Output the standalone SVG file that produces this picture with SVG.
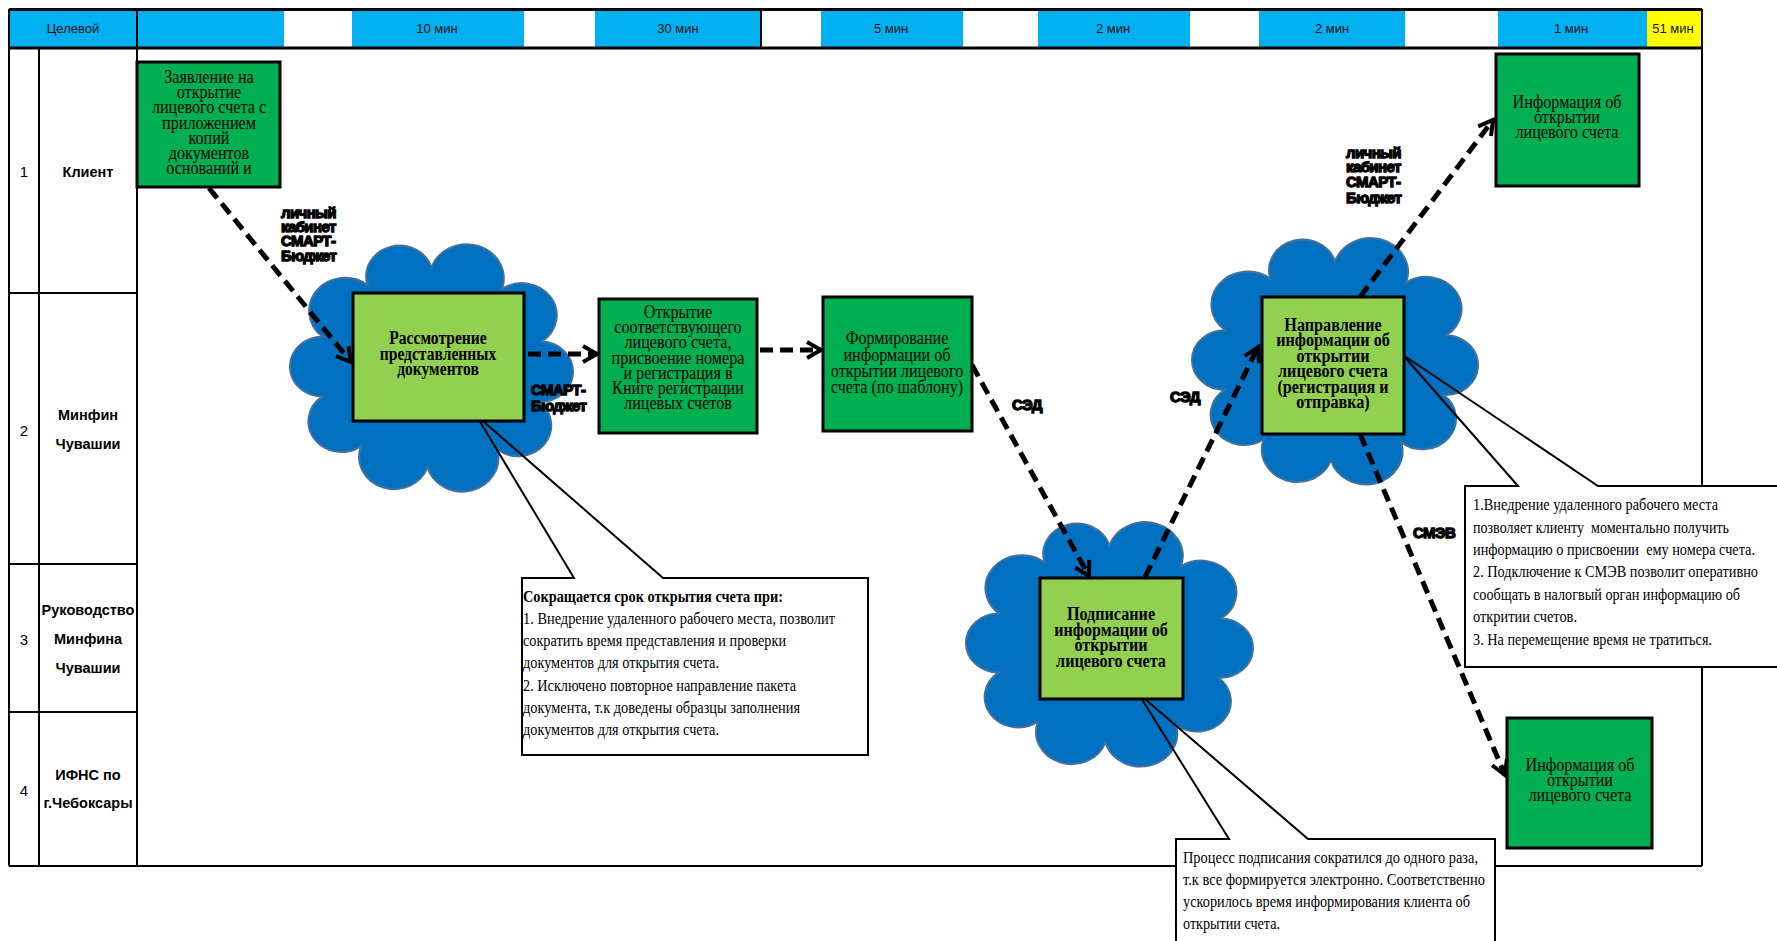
<svg xmlns="http://www.w3.org/2000/svg" xmlns:xlink="http://www.w3.org/1999/xlink" width="1777" height="941" viewBox="0 0 1777 941">
<style>
.hdr{font-family:"Liberation Sans Narrow","Liberation Sans",sans-serif;font-size:13px;fill:#111;text-anchor:middle}
.lane{font-family:"Liberation Sans",sans-serif;font-size:14.5px;font-weight:bold;fill:#000;text-anchor:middle}
.num{font-family:"Liberation Sans",sans-serif;font-size:15px;fill:#000;text-anchor:middle}
.nt{font-family:"Liberation Serif",serif;font-size:19px;fill:#000;text-anchor:middle}
.nb{font-family:"Liberation Serif",serif;font-size:19px;font-weight:bold;fill:#000;text-anchor:middle}
.ct{font-family:"Liberation Serif",serif;font-size:16px;fill:#000}
.lbl{font-family:"Liberation Sans",sans-serif;font-size:15px;font-weight:bold;fill:#000;stroke:#000;stroke-width:1.3;letter-spacing:-0.6px}
.dk{fill:#00B050;stroke:#000;stroke-width:3}
.lt{fill:#92D050;stroke:#000;stroke-width:3}
.cl{fill:#0070C0;stroke:#41719C;stroke-width:2}
.cbox{fill:#fff;stroke:none}
.cline{fill:none;stroke:#000;stroke-width:2}
.tl{stroke:#000;stroke-width:2;fill:none}
</style>
<defs>
<path id="cloud" vector-effect="non-scaling-stroke" d="M50,15 A1,1 0 0 1 72.8,22.4 A1,1 0 0 1 85.7,40.9 A1,1 0 0 1 84.8,62 A1,1 0 0 1 71.2,78.7 A1,1 0 0 1 48.7,85 A1,1 0 0 1 27.2,77.6 A1,1 0 0 1 14.6,60.2 A1,1 0 0 1 14.8,39.2 A1,1 0 0 1 29.3,21 A1,1 0 0 1 50,15 Z"/>
<marker id="arr" viewBox="0 0 20 20" refX="17" refY="10" markerWidth="20" markerHeight="20" markerUnits="userSpaceOnUse" orient="auto">
<path d="M3,2 L17,10 L3,18" fill="none" stroke="#000" stroke-width="4" stroke-dasharray="none"/>
</marker>
</defs>
<rect width="1777" height="941" fill="#fff"/>

<g id="table">
<rect x="9" y="10" width="128" height="38" fill="#00B0F0"/>
<rect x="137" y="10" width="147" height="38" fill="#00B0F0"/>
<rect x="352" y="10" width="172" height="38" fill="#00B0F0"/>
<rect x="595" y="10" width="166" height="38" fill="#00B0F0"/>
<rect x="821" y="10" width="142" height="38" fill="#00B0F0"/>
<rect x="1038" y="10" width="152" height="38" fill="#00B0F0"/>
<rect x="1259" y="10" width="146" height="38" fill="#00B0F0"/>
<rect x="1498" y="10" width="149" height="38" fill="#00B0F0"/>
<rect x="1647" y="10" width="55" height="38" fill="#FFFF00"/>
<line x1="9" y1="9.5" x2="1702" y2="9.5" stroke="#000" stroke-width="3"/>
<line x1="9" y1="48" x2="1702" y2="48" stroke="#000" stroke-width="3"/>
<line class="tl" x1="137" y1="9" x2="137" y2="866"/>
<line class="tl" x1="761" y1="9" x2="761" y2="48"/>
<line class="tl" x1="9" y1="9" x2="9" y2="866"/>
<line class="tl" x1="1702" y1="9" x2="1702" y2="866"/>
<line class="tl" x1="39" y1="48" x2="39" y2="866"/>
<line class="tl" x1="9" y1="293" x2="137" y2="293"/>
<line class="tl" x1="9" y1="564" x2="137" y2="564"/>
<line class="tl" x1="9" y1="712" x2="137" y2="712"/>
<line class="tl" x1="9" y1="866" x2="1702" y2="866"/>
<text class="hdr" x="73" y="33">Целевой</text>
<text class="hdr" x="437" y="33">10 мин</text>
<text class="hdr" x="678" y="33">30 мин</text>
<text class="hdr" x="891" y="33">5 мин</text>
<text class="hdr" x="1113" y="33">2 мин</text>
<text class="hdr" x="1332" y="33">2 мин</text>
<text class="hdr" x="1571" y="33">1 мин</text>
<text class="hdr" x="1673" y="33">51 мин</text>
<text class="num" x="24" y="177">1</text>
<text class="num" x="24" y="436">2</text>
<text class="num" x="24" y="645">3</text>
<text class="num" x="24" y="796">4</text>
<text class="lane" x="88" y="177">Клиент</text>
<text class="lane" x="88" y="420">Минфин</text>
<text class="lane" x="88" y="449">Чувашии</text>
<text class="lane" x="88" y="615">Руководство</text>
<text class="lane" x="88" y="644">Минфина</text>
<text class="lane" x="88" y="673">Чувашии</text>
<text class="lane" x="88" y="780">ИФНС по</text>
<text class="lane" x="88" y="808">г.Чебоксары</text>
</g>

<g id="cloud1"><use xlink:href="#cloud" href="#cloud" class="cl" transform="translate(277 225.1) scale(3.09 2.849)"/></g>
<g id="cloud2"><use xlink:href="#cloud" href="#cloud" class="cl" transform="translate(1178.9 219.1) scale(3.122 2.837)"/></g>
<g id="cloud3"><use xlink:href="#cloud" href="#cloud" class="cl" transform="translate(952.8 503.3) scale(3.133 2.814)"/></g>

<g id="callout1">
<rect class="cbox" x="522" y="578" width="346" height="177"/>
<path class="cline" d="M574,578 L476,415 L663,578 L868,578 L868,755 L522,755 L522,578 Z"/>
<text class="ct" font-weight="bold" x="523" y="602" textLength="260" lengthAdjust="spacingAndGlyphs">Сокращается срок открытия счета при:</text>
<text class="ct" x="523" y="624" textLength="312" lengthAdjust="spacingAndGlyphs">1. Внедрение удаленного рабочего места, позволит</text>
<text class="ct" x="523" y="646" textLength="263" lengthAdjust="spacingAndGlyphs">сократить время представления и проверки</text>
<text class="ct" x="523" y="668" textLength="196" lengthAdjust="spacingAndGlyphs">документов для открытия счета.</text>
<text class="ct" x="523" y="691" textLength="273" lengthAdjust="spacingAndGlyphs">2. Исключено повторное направление пакета</text>
<text class="ct" x="523" y="713" textLength="277" lengthAdjust="spacingAndGlyphs">документа, т.к доведены образцы заполнения</text>
<text class="ct" x="523" y="735" textLength="196" lengthAdjust="spacingAndGlyphs">документов для открытия счета.</text>
</g>

<g id="callout2">
<rect class="cbox" x="1465" y="486" width="320" height="181"/>
<path class="cline" d="M1518,486 L1403,355 L1598,486 L1790,486 L1790,667 L1465,667 L1465,486 Z"/>
<text class="ct" x="1473" y="510" textLength="245" lengthAdjust="spacingAndGlyphs">1.Внедрение удаленного рабочего места</text>
<text class="ct" x="1473" y="533" textLength="256" lengthAdjust="spacingAndGlyphs" xml:space="preserve">позволяет клиенту  моментально получить</text>
<text class="ct" x="1473" y="555" textLength="282" lengthAdjust="spacingAndGlyphs" xml:space="preserve">информацию о присвоении  ему номера счета.</text>
<text class="ct" x="1473" y="577" textLength="285" lengthAdjust="spacingAndGlyphs">2. Подключение к СМЭВ позволит оперативно</text>
<text class="ct" x="1473" y="600" textLength="267" lengthAdjust="spacingAndGlyphs">сообщать в налогвый орган информацию об</text>
<text class="ct" x="1473" y="622" textLength="104" lengthAdjust="spacingAndGlyphs">откритии счетов.</text>
<text class="ct" x="1473" y="645" textLength="239" lengthAdjust="spacingAndGlyphs">3. На перемещение время не тратиться.</text>
</g>

<g id="callout3">
<rect class="cbox" x="1176" y="839" width="319" height="110"/>
<path class="cline" d="M1229,839 L1138,693 L1308,839 L1495,839 L1495,950 L1176,950 L1176,839 Z"/>
<text class="ct" x="1183" y="863" textLength="295" lengthAdjust="spacingAndGlyphs">Процесс подписания сократился до одного раза,</text>
<text class="ct" x="1183" y="885" textLength="302" lengthAdjust="spacingAndGlyphs">т.к все формируется электронно. Соответственно</text>
<text class="ct" x="1183" y="907" textLength="287" lengthAdjust="spacingAndGlyphs">ускорилось время информирования клиента об</text>
<text class="ct" x="1183" y="929" textLength="97" lengthAdjust="spacingAndGlyphs">открытии счета.</text>
</g>

<g id="n-zayavlenie">
<rect class="dk" x="137" y="62" width="143" height="125"/>
<g transform="translate(209 0) scale(0.85 1) translate(-209 0)">
<text class="nt" x="209" y="83">Заявление на</text>
<text class="nt" x="209" y="98">открытие</text>
<text class="nt" x="209" y="113">лицевого счета с</text>
<text class="nt" x="209" y="129">приложением</text>
<text class="nt" x="209" y="144">копий</text>
<text class="nt" x="209" y="159">документов</text>
<text class="nt" x="209" y="174">оснований и</text>
</g>
</g>

<g id="n-rassmotrenie">
<rect class="lt" x="353" y="293" width="171" height="128"/>
<g transform="translate(438 0) scale(0.82 1) translate(-438 0)">
<text class="nb" x="438" y="344">Рассмотрение</text>
<text class="nb" x="438" y="360">представленных</text>
<text class="nb" x="438" y="375">документов</text>
</g>
</g>

<g id="n-otkrytie">
<rect class="dk" x="599" y="299" width="158" height="134"/>
<g transform="translate(678 0) scale(0.85 1) translate(-678 0)">
<text class="nt" x="678" y="318">Открытие</text>
<text class="nt" x="678" y="333">соответствующего</text>
<text class="nt" x="678" y="348">лицевого счета,</text>
<text class="nt" x="678" y="364">присвоение номера</text>
<text class="nt" x="678" y="379">и регистрация в</text>
<text class="nt" x="678" y="394">Книге регистрации</text>
<text class="nt" x="678" y="409">лицевых счетов</text>
</g>
</g>

<g id="n-formirovanie">
<rect class="dk" x="823" y="297" width="149" height="134"/>
<g transform="translate(897 0) scale(0.85 1) translate(-897 0)">
<text class="nt" x="897" y="344">Формирование</text>
<text class="nt" x="897" y="361">информации об</text>
<text class="nt" x="897" y="377">открытии лицевого</text>
<text class="nt" x="897" y="393">счета (по шаблону)</text>
</g>
</g>

<g id="n-podpisanie">
<rect class="lt" x="1040" y="578" width="143" height="121"/>
<g transform="translate(1111 0) scale(0.85 1) translate(-1111 0)">
<text class="nb" x="1111" y="620">Подписание</text>
<text class="nb" x="1111" y="636">информации об</text>
<text class="nb" x="1111" y="651">открытии</text>
<text class="nb" x="1111" y="667">лицевого счета</text>
</g>
</g>

<g id="n-napravlenie">
<rect class="lt" x="1262" y="297" width="142" height="137"/>
<g transform="translate(1333 0) scale(0.85 1) translate(-1333 0)">
<text class="nb" x="1333" y="331">Направление</text>
<text class="nb" x="1333" y="346">информации об</text>
<text class="nb" x="1333" y="362">открытии</text>
<text class="nb" x="1333" y="377">лицевого счета</text>
<text class="nb" x="1333" y="393">(регистрация и</text>
<text class="nb" x="1333" y="408">отправка)</text>
</g>
</g>

<g id="n-info-client">
<rect class="dk" x="1496" y="54" width="143" height="132"/>
<g transform="translate(1567 0) scale(0.85 1) translate(-1567 0)">
<text class="nt" x="1567" y="108">Информация об</text>
<text class="nt" x="1567" y="123">открытии</text>
<text class="nt" x="1567" y="138">лицевого счета</text>
</g>
</g>

<g id="n-info-ifns">
<rect class="dk" x="1507" y="718" width="145" height="130"/>
<g transform="translate(1580 0) scale(0.85 1) translate(-1580 0)">
<text class="nt" x="1580" y="771">Информация об</text>
<text class="nt" x="1580" y="786">открытии</text>
<text class="nt" x="1580" y="801">лицевого счета</text>
</g>
</g>

<g id="connectors" fill="none" stroke="#000" stroke-width="5" stroke-dasharray="13 7" marker-end="url(#arr)">
<line x1="209" y1="188" x2="351" y2="362"/>
<line x1="528" y1="354" x2="597" y2="354"/>
<line x1="760" y1="350" x2="821" y2="350"/>
<line x1="972" y1="365" x2="1089" y2="576"/>
<line x1="1145" y1="577" x2="1258" y2="347"/>
<line x1="1360" y1="297" x2="1493" y2="120"/>
<line x1="1360" y1="434" x2="1505" y2="775"/>
</g>

<g id="labels">
<text class="lbl" x="281" y="218">личный</text>
<text class="lbl" x="281" y="232">кабинет</text>
<text class="lbl" x="281" y="246">СМАРТ-</text>
<text class="lbl" x="281" y="261">Бюджет</text>
<text class="lbl" x="531" y="395">СМАРТ-</text>
<text class="lbl" x="531" y="411">Бюджет</text>
<text class="lbl" x="1012" y="410">СЭД</text>
<text class="lbl" x="1170" y="402">СЭД</text>
<text class="lbl" x="1346" y="158">личный</text>
<text class="lbl" x="1346" y="172">кабинет</text>
<text class="lbl" x="1346" y="187">СМАРТ-</text>
<text class="lbl" x="1346" y="203">Бюджет</text>
<text class="lbl" x="1413" y="538">СМЭВ</text>
</g>
</svg>
